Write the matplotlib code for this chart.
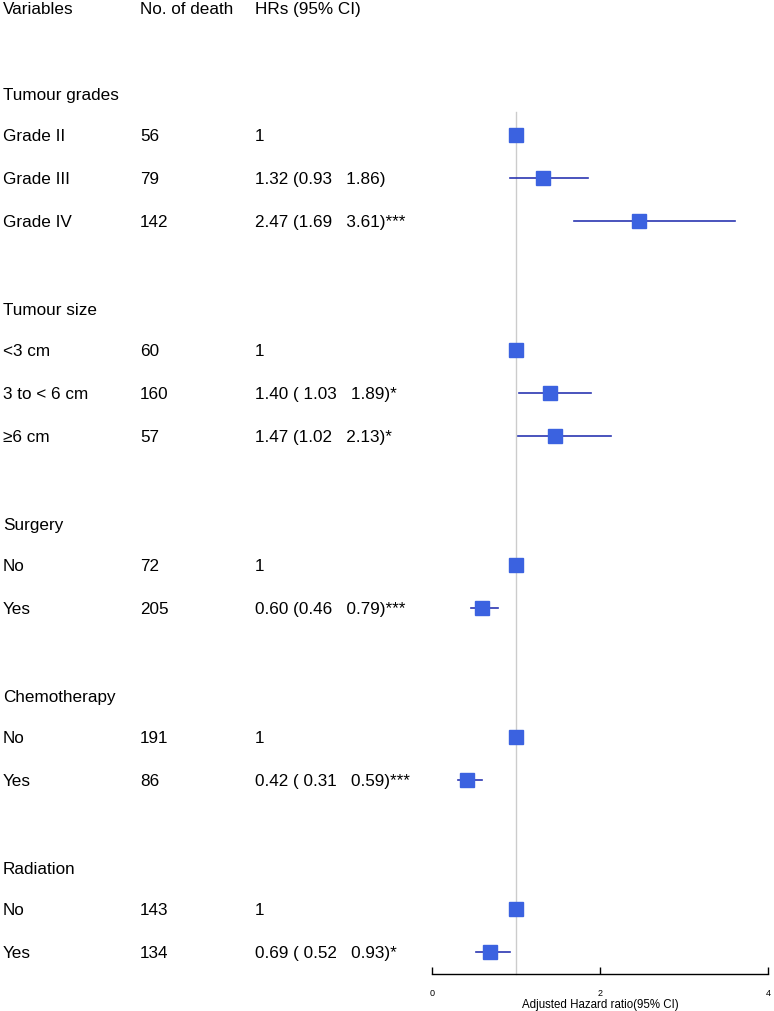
import matplotlib
matplotlib.use("Agg")
import matplotlib.pyplot as plt
from matplotlib.transforms import blended_transform_factory

plt.rcParams['font.family'] = ['Liberation Sans', 'DejaVu Sans']

# Data
groups = ["Tumour grades", "Tumour size", "Surgery", "Chemotherapy", "Radiation"]
levels = [["Grade II", "Grade III", "Grade IV"],
          ["<3 cm", "3 to < 6 cm", "\u22656 cm"],
          ["No", "Yes"],
          ["No", "Yes"],
          ["No", "Yes"]]
deaths = [[56, 79, 142], [60, 160, 57], [72, 205], [191, 86], [143, 134]]
hr = [[1, 1.32, 2.47], [1, 1.40, 1.47], [1, 0.60], [1, 0.42], [1, 0.69]]
ci_lo = [[None, 0.93, 1.69], [None, 1.03, 1.02], [None, 0.46], [None, 0.31], [None, 0.52]]
ci_hi = [[None, 1.86, 3.61], [None, 1.89, 2.13], [None, 0.79], [None, 0.59], [None, 0.93]]
hr_text = [["1", "1.32 (0.93   1.86)", "2.47 (1.69   3.61)***"],
           ["1", "1.40 ( 1.03   1.89)*", "1.47 (1.02   2.13)*"],
           ["1", "0.60 (0.46   0.79)***"],
           ["1", "0.42 ( 0.31   0.59)***"],
           ["1", "0.69 ( 0.52   0.93)*"]]
headers = ["Variables", "No. of death", "HRs (95% CI)"]

W, H = 774, 1012
fig = plt.figure(figsize=(W / 100, H / 100), dpi=100)
ax = fig.add_axes([432 / W, 0, 336 / W, 1])

# row r sits at pixel 10 + 43*r
y0, dy = 10, 43
ax.set_ylim((H - y0) / dy, -y0 / dy)
ax.set_xlim(0, 4)

tr = blended_transform_factory(fig.transFigure, ax.transData)
col_x = [3 / W, 140 / W, 255 / W]
fs = 12.3

for x, h in zip(col_x, headers):
    ax.text(x, 0, h, transform=tr, fontsize=fs, va='center', ha='left')

box_col = '#3B62E0'
line_col = '#2B36B2'
row = 2
for g, grp in enumerate(groups):
    ax.text(col_x[0], row, grp, transform=tr, fontsize=fs, va='center')
    row += 1
    for i, lev in enumerate(levels[g]):
        yy = row - 0.06
        ax.text(col_x[0], yy, lev, transform=tr, fontsize=fs, va='center')
        ax.text(col_x[1], yy, str(deaths[g][i]), transform=tr, fontsize=fs, va='center')
        ax.text(col_x[2], yy, hr_text[g][i], transform=tr, fontsize=fs, va='center')
        if ci_lo[g][i] is not None:
            ax.plot([ci_lo[g][i], ci_hi[g][i]], [yy, yy], color=line_col, lw=1.2, zorder=2)
        ax.plot(hr[g][i], yy, marker='s', ms=10, color=box_col, mec=box_col, zorder=3)
        row += 1
    row += 1

axis_y = 22.44
ax.plot([1, 1], [2.4, axis_y], color='#cccccc', lw=1.0, zorder=1)

for s in ['top', 'right', 'left']:
    ax.spines[s].set_visible(False)
ax.spines['bottom'].set_position(('data', axis_y))
ax.spines['bottom'].set_linewidth(1.0)
ax.set_yticks([])
ax.set_xticks([0, 2, 4])
ax.tick_params(axis='x', direction='in', length=5, width=1.0, labelsize=6.5, pad=10)
ax.set_xlabel("Adjusted Hazard ratio(95% CI)", fontsize=8.3, labelpad=1)
ax.patch.set_alpha(0)

fig.savefig("out.png", dpi=100)
